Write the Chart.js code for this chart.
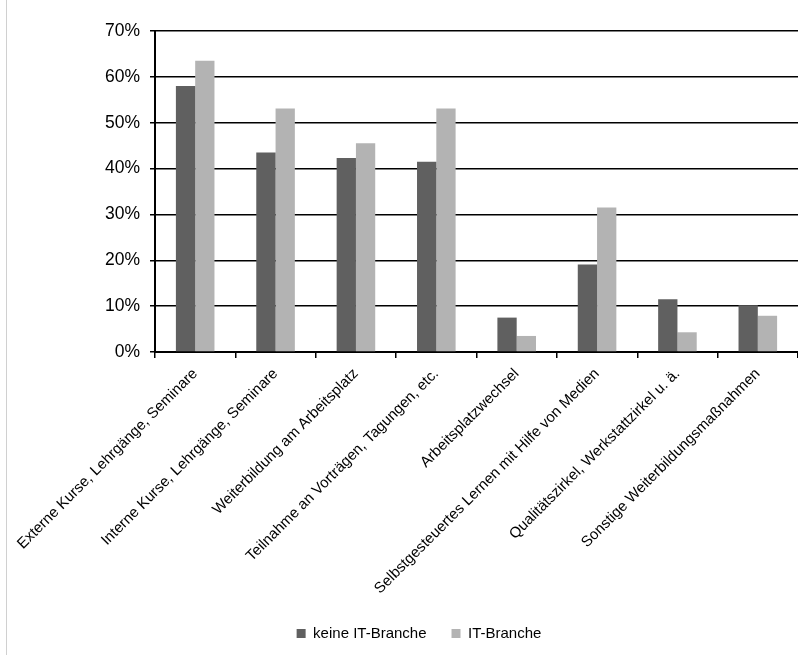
<!DOCTYPE html>
<html>
<head>
<meta charset="utf-8">
<script src="https://cdn.jsdelivr.net/npm/chart.js@4"></script>
<style>
    html, body { margin: 0; padding: 0; background: #fff; }
    #wrap { position: relative; width: 798px; height: 655px; }
    #frame { position: absolute; left: 6px; top: 0; width: 1px; height: 655px; background: #d0d0d0; }
</style>
</head>
<body>
<div id="wrap">
    <div id="frame"></div>
    <canvas id="chart" width="798" height="655"></canvas>
</div>
<script>
// Kategorien (x-Achse)
const categories = [
    "Externe Kurse, Lehrgänge, Seminare",
    "Interne Kurse, Lehrgänge, Seminare",
    "Weiterbildung am Arbeitsplatz",
    "Teilnahme an Vorträgen, Tagungen, etc.",
    "Arbeitsplatzwechsel",
    "Selbstgesteuertes Lernen mit Hilfe von Medien",
    "Qualitätszirkel, Werkstattzirkel u. ä.",
    "Sonstige Weiterbildungsmaßnahmen"
];

// Werte in Prozent
const keineIT = [58.0, 43.5, 42.3, 41.5, 7.5, 19.1, 11.5, 10.2];
const itBranche = [63.5, 53.1, 45.5, 53.1, 3.5, 31.5, 4.3, 7.9];

const seriesNames = ["keine IT-Branche", "IT-Branche"];
const yTicks = [0, 10, 20, 30, 40, 50, 60, 70];

// Legende etwas nach rechts schieben (wie im Original)
const legendShift = {
    id: "legendShift",
    afterLayout(chart) {
        chart.legend.left += 20;
        chart.legend.right += 20;
    }
};

const ctx = document.getElementById("chart").getContext("2d");

new Chart(ctx, {
    type: "bar",
    data: {
        labels: categories,
        datasets: [
            {
                label: seriesNames[0],
                data: keineIT,
                backgroundColor: "#606060",
                borderWidth: 0
            },
            {
                label: seriesNames[1],
                data: itBranche,
                backgroundColor: "#b3b3b3",
                borderWidth: 0
            }
        ]
    },
    options: {
        responsive: false,
        animation: false,
        layout: {
            padding: { left: 0, right: 0, top: 31, bottom: 4 }
        },
        datasets: {
            bar: {
                categoryPercentage: 0.48,
                barPercentage: 1.0
            }
        },
        scales: {
            x: {
                offset: true,
                grid: {
                    offset: true,
                    drawOnChartArea: false,
                    drawTicks: true,
                    tickLength: 6,
                    color: "#000",
                    lineWidth: 1.5
                },
                border: { color: "#000", width: 2 },
                ticks: {
                    autoSkip: false,
                    minRotation: 45,
                    maxRotation: 45,
                    padding: 7,
                    color: "#000",
                    font: { family: "'Liberation Sans', Arial, sans-serif", size: 15 }
                },
                afterFit: (scale) => { scale.height = 249; }
            },
            y: {
                min: 0,
                max: 70,
                afterBuildTicks: (scale) => {
                    scale.ticks = yTicks.map(v => ({ value: v }));
                },
                grid: {
                    color: "#000",
                    lineWidth: 1.5,
                    drawTicks: true,
                    tickLength: 5
                },
                border: { color: "#000", width: 2 },
                ticks: {
                    padding: 10,
                    color: "#000",
                    font: { family: "'Liberation Sans', Arial, sans-serif", size: 17.5 },
                    callback: (value) => value + "%"
                },
                afterFit: (scale) => { scale.width = 155; }
            }
        },
        plugins: {
            legend: {
                display: true,
                position: "bottom",
                labels: {
                    boxWidth: 9,
                    boxHeight: 9,
                    padding: 25,
                    color: "#000",
                    font: { family: "'Liberation Sans', Arial, sans-serif", size: 15 }
                }
            },
            tooltip: { enabled: false },
            title: { display: false }
        }
    },
    plugins: [legendShift]
});
</script>
</body>
</html>
